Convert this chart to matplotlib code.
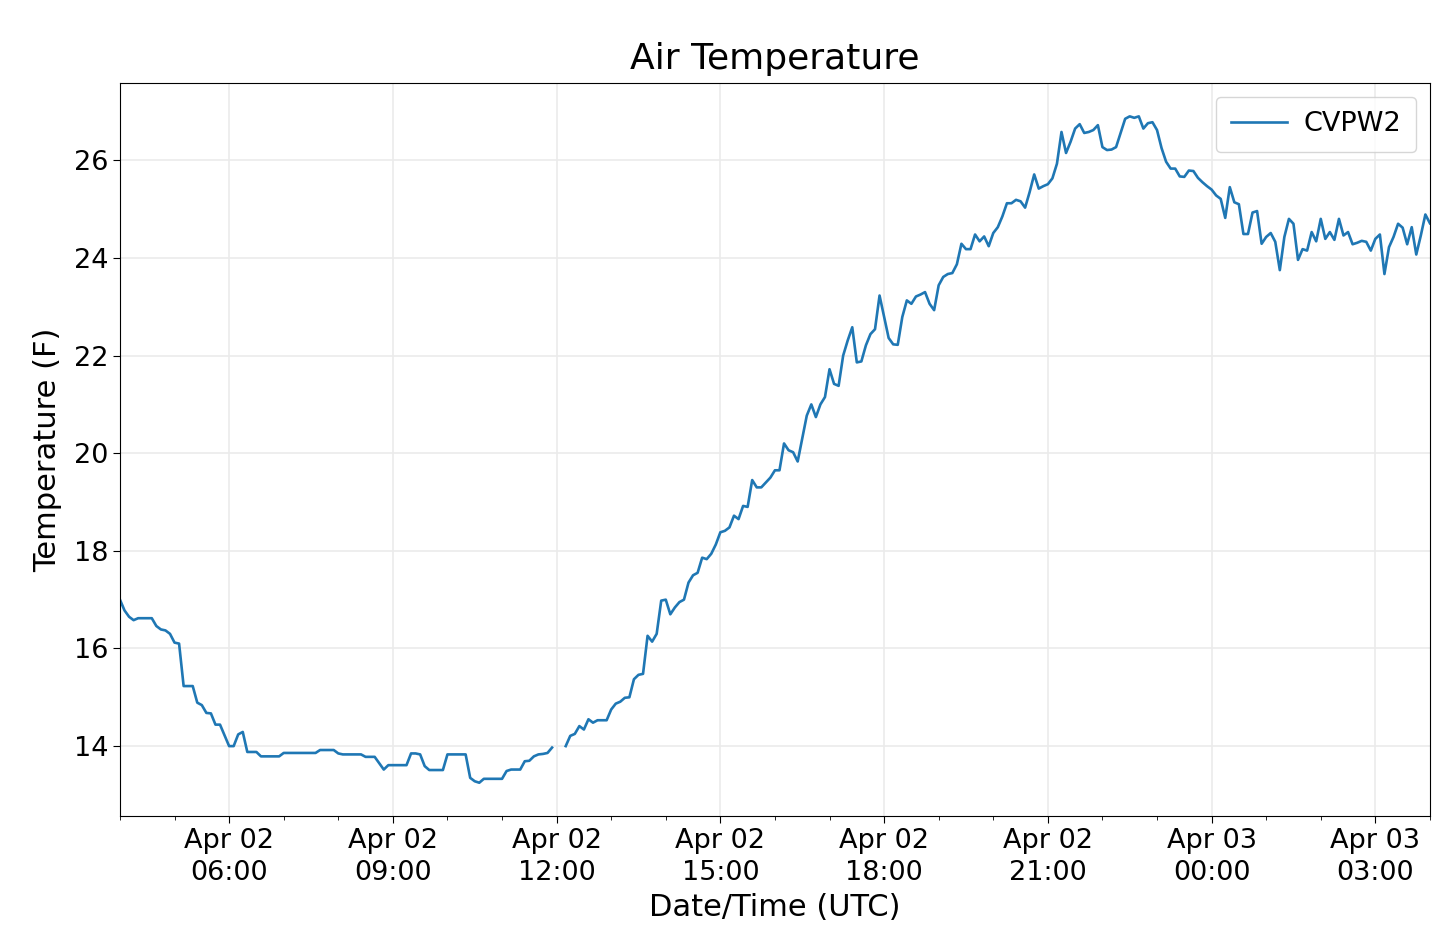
import numpy as np
import pandas as pd
import matplotlib
matplotlib.use("Agg")
import matplotlib.pyplot as plt
import matplotlib.dates as mdates

# 5-minute air temperature readings (F), Apr 02 04:00 UTC -> Apr 03 04:00 UTC
start_time = "2019-04-02 04:00"
interval = "5min"
temps = [
    17.00, 16.78, 16.65, 16.58, 16.62, 16.62, 16.62, 16.62, 16.46, 16.39,
    16.37, 16.30, 16.12, 16.10, 15.23, 15.23, 15.23, 14.89, 14.84, 14.68,
    14.67, 14.44, 14.44, 14.22, 14.00, 14.00, 14.24, 14.29, 13.88, 13.88,
    13.88, 13.79, 13.79, 13.79, 13.79, 13.79, 13.86, 13.86, 13.86, 13.86,
    13.86, 13.86, 13.86, 13.86, 13.92, 13.92, 13.92, 13.92, 13.85, 13.83,
    13.83, 13.83, 13.83, 13.83, 13.78, 13.78, 13.78, 13.65, 13.52, 13.61,
    13.61, 13.61, 13.61, 13.61, 13.85, 13.85, 13.83, 13.59, 13.51, 13.51,
    13.51, 13.51, 13.83, 13.83, 13.83, 13.83, 13.83, 13.35, 13.28, 13.25,
    13.33, 13.33, 13.33, 13.33, 13.33, 13.49, 13.52, 13.52, 13.52, 13.69,
    13.70, 13.79, 13.83, 13.84, 13.86, 13.97, np.nan, np.nan, 14.00, 14.21,
    14.25, 14.41, 14.34, 14.55, 14.48, 14.53, 14.53, 14.53, 14.75, 14.87,
    14.91, 14.99, 15.00, 15.37, 15.46, 15.48, 16.26, 16.14, 16.30, 16.98,
    17.00, 16.70, 16.84, 16.95, 17.00, 17.35, 17.50, 17.55, 17.86, 17.83,
    17.94, 18.13, 18.38, 18.41, 18.48, 18.72, 18.65, 18.92, 18.90, 19.45,
    19.30, 19.30, 19.40, 19.50, 19.65, 19.65, 20.20, 20.06, 20.02, 19.83,
    20.30, 20.77, 21.00, 20.74, 21.00, 21.15, 21.72, 21.42, 21.38, 22.00,
    22.31, 22.58, 21.86, 21.88, 22.21, 22.44, 22.54, 23.23, 22.79, 22.36,
    22.23, 22.22, 22.79, 23.13, 23.06, 23.21, 23.25, 23.30, 23.06, 22.93,
    23.44, 23.61, 23.67, 23.69, 23.87, 24.29, 24.18, 24.18, 24.48, 24.34,
    24.44, 24.24, 24.51, 24.63, 24.85, 25.12, 25.12, 25.19, 25.16, 25.03,
    25.35, 25.71, 25.42, 25.47, 25.51, 25.63, 25.93, 26.58, 26.15, 26.38,
    26.65, 26.74, 26.56, 26.58, 26.62, 26.72, 26.27, 26.21, 26.22, 26.27,
    26.56, 26.85, 26.90, 26.87, 26.90, 26.65, 26.76, 26.78, 26.62, 26.25,
    25.97, 25.83, 25.83, 25.67, 25.66, 25.79, 25.78, 25.64, 25.55, 25.47,
    25.40, 25.28, 25.21, 24.82, 25.45, 25.14, 25.10, 24.49, 24.49, 24.93,
    24.96, 24.29, 24.43, 24.51, 24.33, 23.75, 24.43, 24.80, 24.70, 23.96,
    24.18, 24.15, 24.53, 24.34, 24.80, 24.39, 24.53, 24.37, 24.80, 24.46,
    24.53, 24.28, 24.31, 24.35, 24.33, 24.15, 24.39, 24.48, 23.67, 24.22,
    24.43, 24.70, 24.62, 24.28, 24.63, 24.07, 24.46, 24.89, 24.71,
]
station = "CVPW2"
title = "Air Temperature"
xlabel = "Date/Time (UTC)"
ylabel = "Temperature (F)"
yticks = [14, 16, 18, 20, 22, 24, 26]

times = pd.date_range(start_time, periods=len(temps), freq=interval)

fig = plt.figure(figsize=(14.4, 9.49), dpi=100)
ax = fig.add_axes([0.0833, 0.1401, 0.9097, 0.7724])

ax.plot(times, temps, color="#1f77b4", linewidth=1.9, label=station)

ax.set_xlim(times[0], times[-1])
ax.margins(y=0.05)
ax.set_yticks(yticks)

ax.xaxis.set_major_locator(mdates.HourLocator(byhour=range(0, 24, 3)))
ax.xaxis.set_minor_locator(mdates.HourLocator())
ax.xaxis.set_major_formatter(mdates.DateFormatter("%b %d\n%H:%M"))

ax.grid(True, which="major", color="#ebebeb", linewidth=1.2)
ax.set_axisbelow(True)

ax.tick_params(axis="both", which="major", labelsize=19.5, length=5)
ax.tick_params(axis="x", which="minor", length=3)
fig.canvas.draw()
for lbl in ax.get_xticklabels():
    lbl.set_horizontalalignment("center")
    lbl.set_linespacing(1.3)

ax.set_title(title, fontsize=26, pad=10)
ax.set_xlabel(xlabel, fontsize=22, labelpad=5)
ax.set_ylabel(ylabel, fontsize=22, labelpad=8)

ax.legend(loc="upper right", fontsize=19.5, handlelength=2.1,
          handletextpad=0.6, borderpad=0.55)

fig.savefig("out.png", dpi=100)
